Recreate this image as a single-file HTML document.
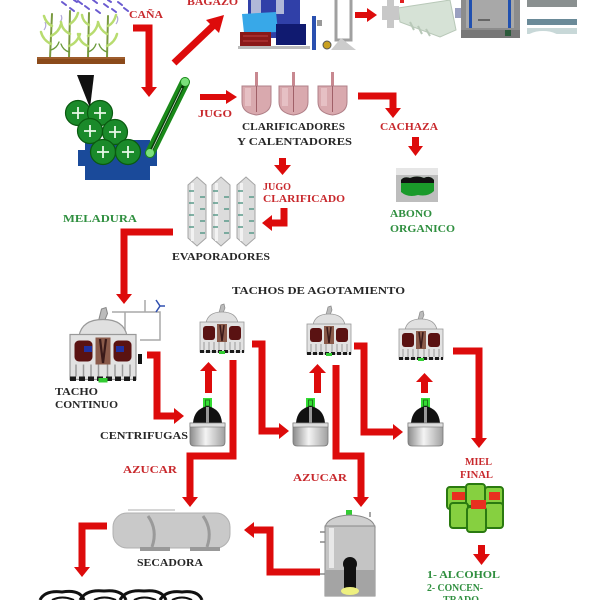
<!DOCTYPE html>
<html><head><meta charset="utf-8"><style>
html,body{margin:0;padding:0;background:#fff;}
svg{display:block;}
text{font-family:"Liberation Serif",serif;font-weight:bold;}
.r{fill:#c8282c;}
.g{fill:#2f8f3f;}
.k{fill:#262626;}
.a{fill:none;stroke:#dd0b0b;stroke-width:7;stroke-linejoin:miter;}
.h{fill:#dd0b0b;}
</style></head><body>
<svg width="600" height="600" viewBox="0 0 600 600" xmlns="http://www.w3.org/2000/svg">
<defs>
 <linearGradient id="cyl" x1="0" x2="1" y1="0" y2="0">
  <stop offset="0" stop-color="#8a8a8a"/><stop offset="0.45" stop-color="#f4f4f4"/><stop offset="1" stop-color="#a0a0a0"/>
 </linearGradient>
 <g id="tacho">
  <path d="M19,10 L21,2 L24,1 L25,5 L23,10 Z" fill="#bbb" stroke="#888" stroke-width="0.7"/>
  <path d="M6,20 Q8,9 22,9 Q36,9 38,20 Z" fill="#e0e0e0" stroke="#999" stroke-width="0.8"/>
  <rect x="0" y="19" width="44" height="30" fill="#e2e2e2" stroke="#999" stroke-width="0.8"/>
  <rect x="3" y="23" width="12" height="14" rx="3" fill="#5a1212"/>
  <rect x="29" y="23" width="12" height="14" rx="3" fill="#5a1212"/>
  <rect x="17" y="21" width="10" height="18" fill="#8a5a4a"/>
  <path d="M20,22 L22,38 L24,22" stroke="#3a1a1a" stroke-width="1.5" fill="none"/>
  <path d="M4,39 V47 M9,39 V47 M14,39 V47 M19,39 V47 M25,39 V47 M30,39 V47 M35,39 V47 M40,39 V47" stroke="#999" stroke-width="1"/>
  <line x1="0" y1="48.5" x2="44" y2="48.5" stroke="#1a1a1a" stroke-width="3" stroke-dasharray="4 2"/>
  <rect x="19" y="48" width="6" height="3" fill="#3c3"/>
 </g>
 <g id="centr">
  <rect x="13" y="0" width="9" height="10" fill="#33dd33"/>
  <rect x="15.5" y="2" width="4" height="6" fill="none" stroke="#1a7a1a" stroke-width="1"/>
  <path d="M3,25 Q4,11 17.5,8 Q31,11 32,25 Z" fill="#111"/>
  <rect x="16" y="9" width="3" height="16" fill="#999"/>
  <path d="M0,25 L35,25 L35,44 Q35,48 31,48 L4,48 Q0,48 0,44 Z" fill="url(#cyl)" stroke="#777" stroke-width="0.8"/>
  <rect x="0" y="25" width="35" height="4" fill="#ddd" stroke="#777" stroke-width="0.6"/>
 </g>
 <g id="evap">
  <path d="M9,0 L18,8 L18,61 L9,69 L0,61 L0,8 Z" fill="#dcdcdc" stroke="#a4a4a4" stroke-width="1"/>
  <rect x="3" y="6" width="3" height="58" fill="#f2f2f2"/>
  <path d="M1,14 H6 M12,20 H17 M1,26 H6 M12,32 H17 M1,38 H6 M12,44 H17 M1,50 H6 M12,56 H17" stroke="#5a9a8a" stroke-width="1.5"/>
 </g>
 <g id="clar">
  <rect x="13" y="-14" width="3" height="14" fill="#c88890"/>
  <path d="M0,0 L29,0 L29,16 Q29,27 14.5,29 Q0,27 0,16 Z" fill="#d9a9ae" stroke="#b08088" stroke-width="1"/>
  <rect x="3" y="2" width="6" height="18" fill="#e6c0c4"/>
  <line x1="14.5" y1="0" x2="14.5" y2="26" stroke="#a06068" stroke-width="1"/>
 </g>
</defs>

<!-- rain -->
<g stroke="#6a5ad0" stroke-width="2" stroke-linecap="round">
 <line x1="62" y1="2" x2="66" y2="5"/><line x1="70" y1="8" x2="74" y2="11"/>
 <line x1="78" y1="1" x2="82" y2="4"/><line x1="85" y1="6" x2="89" y2="9"/>
 <line x1="93" y1="0" x2="97" y2="3"/><line x1="96" y1="10" x2="100" y2="13"/>
 <line x1="104" y1="4" x2="108" y2="7"/><line x1="112" y1="9" x2="116" y2="12"/>
 <line x1="118" y1="2" x2="122" y2="5"/><line x1="124" y1="8" x2="128" y2="11"/>
 <line x1="74" y1="0" x2="77" y2="2"/><line x1="108" y1="0" x2="111" y2="2"/>
</g>
<g stroke="#b0a8d8" stroke-width="1.2" fill="none">
 <path d="M44,30 q3,-4 1,-8"/><path d="M60,22 q3,-3 1,-7"/><path d="M116,24 q3,-4 1,-8"/>
</g>
<!-- cane plants -->
<g fill="none" stroke-linecap="round">
 <path d="M50,58 L52,14 M69,58 L70,11 M88,58 L89,13 M107,58 L108,16" stroke="#7a9a40" stroke-width="2"/>
 <g stroke="#b8dc70" stroke-width="2.5">
  <path d="M51,44 q-8,-4 -10,-12"/><path d="M51,36 q8,-4 10,-12"/><path d="M52,26 q-6,-3 -8,-10"/>
  <path d="M69,46 q8,-3 11,-12"/><path d="M70,34 q-8,-4 -9,-12"/><path d="M70,24 q6,-4 8,-11"/>
  <path d="M88,46 q-8,-3 -10,-12"/><path d="M88,36 q8,-4 10,-13"/><path d="M89,25 q-6,-3 -7,-10"/>
  <path d="M107,46 q8,-4 10,-12"/><path d="M107,34 q-7,-4 -9,-12"/><path d="M108,26 q6,-3 8,-11"/>
 </g>
 <g stroke="#6a9a3a" stroke-width="1.3">
  <path d="M51,50 q6,-2 8,-8"/><path d="M69,52 q-6,-2 -8,-8"/><path d="M88,52 q6,-2 8,-8"/><path d="M107,52 q-6,-2 -8,-8"/>
 </g>
</g>
<rect x="37" y="57" width="88" height="7" fill="#8b4a1a"/>
<line x1="37" y1="58" x2="125" y2="58" stroke="#b07040" stroke-width="1"/>

<!-- funnel -->
<polygon points="77,75 94,75 90,108" fill="#111"/>
<!-- mill base -->
<polygon points="85,140 150,140 150,150 157,150 157,166 150,166 150,180 85,180 85,166 78,166 78,150 85,150" fill="#1a4a9a"/>
<!-- conveyor -->
<line x1="150" y1="153" x2="185" y2="82" stroke="#1a8a1a" stroke-width="10" stroke-linecap="round"/>
<line x1="150" y1="153" x2="185" y2="82" stroke="#0a3a0a" stroke-width="3"/>
<line x1="152" y1="150" x2="182" y2="88" stroke="#c8e8c8" stroke-width="0.8"/>
<circle cx="185" cy="82" r="4" fill="#7be07b"/>
<circle cx="150" cy="153" r="4" fill="#7be07b"/>
<!-- rollers -->
<g fill="#1a8a2a" stroke="#0a5a10" stroke-width="1.2">
 <circle cx="78" cy="113" r="12.5"/><circle cx="100" cy="113" r="12.5"/>
 <circle cx="90" cy="131" r="12.5"/><circle cx="115" cy="132" r="12.5"/>
 <circle cx="103" cy="152" r="12.5"/><circle cx="128" cy="152" r="12.5"/>
</g>
<g stroke="#e8f8e8" stroke-width="1.8">
 <path d="M72,113 h12 M78,107 v12"/><path d="M94,113 h12 M100,107 v12"/>
 <path d="M84,131 h12 M90,125 v12"/><path d="M109,132 h12 M115,126 v12"/>
 <path d="M97,152 h12 M103,146 v12"/><path d="M122,152 h12 M128,146 v12"/>
</g>

<!-- CAÑA arrow -->
<polyline class="a" points="133,28 149,28 149,88"/>
<polygon class="h" points="141,87 157,87 149,97"/>
<!-- BAGAZO arrow -->
<line x1="174" y1="63" x2="215" y2="24" stroke="#dd0b0b" stroke-width="7"/>
<polygon class="h" points="224,15 219,33 206,20"/>

<!-- boiler -->
<rect x="248" y="0" width="52" height="38" fill="#3040a8"/>
<rect x="251" y="0" width="10" height="16" fill="#b0b8d8"/>
<rect x="276" y="0" width="8" height="14" fill="#b0b8d8"/>
<path d="M242,14 L276,12 L278,32 L244,33 Z" fill="#38a8e8"/>
<rect x="276" y="24" width="30" height="21" fill="#101a70"/>
<rect x="240" y="32" width="31" height="14" fill="#8a1818"/>
<path d="M243,36 h25 M243,41 h25" stroke="#c04040" stroke-width="1"/>
<rect x="238" y="46" width="72" height="3" fill="#bbb"/>
<rect x="312" y="16" width="4" height="34" fill="#2a50b0"/>
<rect x="317" y="20" width="5" height="6" fill="#999"/>
<circle cx="327" cy="45" r="4" fill="#c9a020" stroke="#555" stroke-width="1"/>
<path d="M336,0 L336,40 L351,40 L351,0" fill="none" stroke="#a0a0a0" stroke-width="3"/>
<polygon points="331,50 341,38 356,50" fill="#ccc"/>
<!-- small arrow -->
<rect x="355" y="12" width="13" height="6" fill="#dd0b0b"/>
<polygon class="h" points="367,8 377,15 367,22"/>
<!-- turbine -->
<polygon points="398,8 450,0 456,30 440,37 400,22" fill="#d6e2d6" stroke="#b8c8b8" stroke-width="1"/>
<path d="M410,22 l4,8 M418,26 l4,8 M426,29 l4,7" stroke="#b8c8b8" stroke-width="2"/>
<rect x="382" y="6" width="17" height="14" fill="#c8c8c8"/>
<rect x="387" y="0" width="7" height="28" fill="#c8c8c8"/>
<rect x="400" y="0" width="4" height="3" fill="#e02020"/>
<rect x="455" y="8" width="7" height="10" fill="#9aa0c0"/>
<!-- generator -->
<rect x="461" y="0" width="59" height="38" fill="#8c8c8c"/>
<rect x="466" y="0" width="48" height="28" fill="#a8a8a8"/>
<rect x="469" y="0" width="3" height="28" fill="#2050b0"/>
<rect x="508" y="0" width="3" height="28" fill="#2050b0"/>
<rect x="478" y="19" width="12" height="2" fill="#666"/>
<rect x="461" y="30" width="59" height="8" fill="#777"/>
<rect x="505" y="30" width="6" height="6" fill="#2a5a3a"/>
<!-- bars -->
<rect x="527" y="0" width="50" height="7" fill="#8a9090"/>
<rect x="527" y="19" width="50" height="6" fill="#6a8a98"/>
<rect x="527" y="28" width="50" height="6" fill="#c8d8d8"/>
<ellipse cx="543" cy="40" rx="18" ry="9" fill="#fff"/>

<!-- JUGO arrow -->
<rect x="200" y="94" width="27" height="6" fill="#dd0b0b"/>
<polygon class="h" points="226,90 237,97 226,104"/>
<!-- clarifiers -->
<use href="#clar" x="242" y="86"/>
<use href="#clar" x="279" y="86"/>
<use href="#clar" x="318" y="86"/>
<!-- cachaza arrow -->
<polyline class="a" points="358,96 393,96 393,109"/>
<polygon class="h" points="385,108 401,108 393,118"/>
<rect x="412" y="137" width="7" height="10" fill="#dd0b0b"/>
<polygon class="h" points="408,146 423,146 415.5,156"/>
<!-- abono -->
<rect x="396" y="168" width="42" height="34" fill="#bdbdbd"/>
<rect x="396" y="168" width="42" height="7" fill="#e6e6e6"/>
<path d="M401,180 Q404,176 410,178 Q417,175 424,178 Q430,175 434,180 L434,191 Q428,197 418,195 Q408,198 401,192 Z" fill="#1a9a2a"/>
<path d="M401,180 Q404,176 410,178 Q417,175 424,178 Q430,175 434,180 L434,183 L401,183 Z" fill="#111"/>

<!-- down arrow to jugo clarificado -->
<rect x="279" y="158" width="7" height="8" fill="#dd0b0b"/>
<polygon class="h" points="274,165 291,165 282.5,175"/>
<!-- return arrow -->
<polyline class="a" points="284,208 284,223 271,223"/>
<polygon class="h" points="272,215 272,231 262,223"/>
<!-- evaporators -->
<use href="#evap" x="188" y="177"/>
<use href="#evap" x="212" y="177"/>
<use href="#evap" x="237" y="177"/>
<!-- meladura arrow -->
<polyline class="a" points="173,232 124,232 124,294"/>
<polygon class="h" points="116,294 132,294 124,304"/>

<!-- tacho continuo -->
<g fill="none" stroke="#a8a8a8" stroke-width="1.5">
 <path d="M112,312 H160 V340 H140"/><path d="M125,312 V330"/><path d="M145,312 V300"/>
</g>
<path d="M156,300 l4,6 l-4,6 M160,306 h5" stroke="#3050b0" stroke-width="1.5" fill="none"/>
<g transform="translate(70,306) scale(1.5)"><use href="#tacho"/></g>
<rect x="84" y="346" width="8" height="6" fill="#2030a0"/>
<rect x="116" y="346" width="8" height="6" fill="#2030a0"/>
<rect x="138" y="354" width="4" height="10" fill="#111"/>

<!-- tachos -->
<use href="#tacho" x="200" y="303"/>
<use href="#tacho" x="307" y="305"/>
<use href="#tacho" x="399" y="310"/>
<!-- centrifuges -->
<use href="#centr" x="190" y="398"/>
<use href="#centr" x="293" y="398"/>
<use href="#centr" x="408" y="398"/>

<!-- up arrows -->
<rect x="205" y="370" width="7" height="23" fill="#dd0b0b"/>
<polygon class="h" points="200,371 217,371 208.5,362"/>
<rect x="314" y="372" width="7" height="21" fill="#dd0b0b"/>
<polygon class="h" points="309,373 326,373 317.5,364"/>
<rect x="421" y="381" width="7" height="12" fill="#dd0b0b"/>
<polygon class="h" points="416,382 433,382 424.5,373"/>

<!-- connectors -->
<polyline class="a" points="147,355 157,355 157,416 174,416"/>
<polygon class="h" points="174,408 174,424 184,416"/>
<polyline class="a" points="233,360 233,456 190,456 190,497"/>
<polygon class="h" points="182,497 198,497 190,507"/>
<polyline class="a" points="252,344 262,344 262,431 279,431"/>
<polygon class="h" points="279,423 279,439 289,431"/>
<polyline class="a" points="354,346 364,346 364,432 393,432"/>
<polygon class="h" points="393,424 393,440 403,432"/>
<polyline class="a" points="336,365 336,456 361,456 361,497"/>
<polygon class="h" points="353,497 369,497 361,507"/>
<polyline class="a" points="453,351 479,351 479,438"/>
<polygon class="h" points="471,438 487,438 479,448"/>

<!-- barrels -->
<g fill="#86d040" stroke="#2a7a10" stroke-width="2">
 <rect x="447" y="487" width="20" height="22" rx="3"/>
 <rect x="485" y="487" width="18" height="22" rx="3"/>
 <rect x="466" y="484" width="19" height="22" rx="3"/>
 <rect x="450" y="503" width="18" height="25" rx="3"/>
 <rect x="485" y="503" width="18" height="25" rx="3"/>
 <rect x="467" y="507" width="19" height="25" rx="3"/>
</g>
<g fill="#e83020">
 <rect x="452" y="492" width="13" height="8"/><rect x="471" y="500" width="15" height="9"/><rect x="489" y="492" width="11" height="8"/>
</g>
<rect x="478" y="545" width="7" height="10" fill="#dd0b0b"/>
<polygon class="h" points="473,554 490,554 481.5,565"/>

<!-- silo -->
<rect x="346" y="510" width="6" height="9" fill="#33cc33"/>
<path d="M325,527 Q328,516 350,515 Q372,516 375,527 Z" fill="#cfcfcf" stroke="#888" stroke-width="1"/>
<rect x="325" y="526" width="50" height="70" fill="#c4c4c4" stroke="#888" stroke-width="1"/>
<rect x="329" y="528" width="5" height="40" fill="#e8e8e8"/>
<rect x="325" y="570" width="50" height="26" fill="#a4a4a4"/>
<path d="M320,532 h5 M320,542 h5 M320,574 h5 M370,512 v5" stroke="#888" stroke-width="1.5"/>
<circle cx="350" cy="564" r="7" fill="#111"/>
<rect x="344" y="564" width="12" height="24" fill="#111"/>
<ellipse cx="350" cy="591" rx="9" ry="4" fill="#eef080"/>
<!-- silo to secadora -->
<polyline class="a" points="320,572 270,572 270,530 254,530"/>
<polygon class="h" points="254,522 254,538 244,530"/>

<!-- secadora -->
<line x1="128" y1="510" x2="175" y2="510" stroke="#c8c8c8" stroke-width="1.5"/>
<rect x="113" y="513" width="117" height="35" rx="14" fill="#c9c9c9" stroke="#b0b0b0" stroke-width="1"/>
<path d="M148,516 Q158,530 152,547" stroke="#9a9a9a" stroke-width="3" fill="none"/>
<path d="M203,516 Q213,530 207,547" stroke="#9a9a9a" stroke-width="3" fill="none"/>
<rect x="140" y="547" width="30" height="4" fill="#999"/>
<rect x="190" y="547" width="30" height="4" fill="#999"/>
<!-- secadora to bags -->
<polyline class="a" points="107,526 82,526 82,567"/>
<polygon class="h" points="74,567 90,567 82,577"/>
<!-- bags -->
<g fill="none" stroke="#111" stroke-width="3">
 <path d="M40,600 Q45,590 62,592 Q80,589 84,600"/>
 <path d="M80,600 Q86,589 104,591 Q122,589 126,600"/>
 <path d="M120,600 Q126,589 144,591 Q162,589 166,600"/>
 <path d="M160,600 Q166,590 182,592 Q198,590 202,600"/>
 <path d="M52,600 q10,-5 22,0 M94,600 q10,-5 22,0 M134,600 q10,-5 22,0 M172,600 q10,-5 20,0" stroke-width="2"/>
</g>

<!-- labels -->
<text class="r" x="129" y="18" font-size="10" textLength="34" lengthAdjust="spacingAndGlyphs">CAÑA</text>
<text class="r" x="187" y="5" font-size="10" textLength="51" lengthAdjust="spacingAndGlyphs">BAGAZO</text>
<text class="r" x="198" y="117" font-size="10" textLength="34" lengthAdjust="spacingAndGlyphs">JUGO</text>
<text class="k" x="242" y="130" font-size="10.5" textLength="103" lengthAdjust="spacingAndGlyphs">CLARIFICADORES</text>
<text class="k" x="237" y="145" font-size="11" textLength="115" lengthAdjust="spacingAndGlyphs">Y CALENTADORES</text>
<text class="r" x="380" y="130" font-size="10" textLength="58" lengthAdjust="spacingAndGlyphs">CACHAZA</text>
<text class="r" x="263" y="190" font-size="10" textLength="28" lengthAdjust="spacingAndGlyphs">JUGO</text>
<text class="r" x="263" y="202" font-size="10" textLength="82" lengthAdjust="spacingAndGlyphs">CLARIFICADO</text>
<text class="g" x="390" y="217" font-size="10" textLength="42" lengthAdjust="spacingAndGlyphs">ABONO</text>
<text class="g" x="390" y="232" font-size="10" textLength="65" lengthAdjust="spacingAndGlyphs">ORGANICO</text>
<text class="g" x="63" y="222" font-size="10" textLength="74" lengthAdjust="spacingAndGlyphs">MELADURA</text>
<text class="k" x="172" y="260" font-size="10.5" textLength="98" lengthAdjust="spacingAndGlyphs">EVAPORADORES</text>
<text class="k" x="232" y="294" font-size="10.5" textLength="173" lengthAdjust="spacingAndGlyphs">TACHOS DE AGOTAMIENTO</text>
<text class="k" x="55" y="395" font-size="10" textLength="43" lengthAdjust="spacingAndGlyphs">TACHO</text>
<text class="k" x="55" y="408" font-size="10" textLength="63" lengthAdjust="spacingAndGlyphs">CONTINUO</text>
<text class="k" x="100" y="439" font-size="10.5" textLength="88" lengthAdjust="spacingAndGlyphs">CENTRIFUGAS</text>
<text class="r" x="123" y="473" font-size="10" textLength="54" lengthAdjust="spacingAndGlyphs">AZUCAR</text>
<text class="r" x="293" y="481" font-size="10" textLength="54" lengthAdjust="spacingAndGlyphs">AZUCAR</text>
<text class="r" x="465" y="465" font-size="10" textLength="27" lengthAdjust="spacingAndGlyphs">MIEL</text>
<text class="r" x="460" y="478" font-size="10" textLength="33" lengthAdjust="spacingAndGlyphs">FINAL</text>
<text class="k" x="137" y="566" font-size="10" textLength="66" lengthAdjust="spacingAndGlyphs">SECADORA</text>
<text class="g" x="427" y="578" font-size="10" textLength="73" lengthAdjust="spacingAndGlyphs">1- ALCOHOL</text>
<text class="g" x="427" y="591" font-size="10" textLength="56" lengthAdjust="spacingAndGlyphs">2- CONCEN-</text>
<text class="g" x="443" y="603" font-size="10" textLength="36" lengthAdjust="spacingAndGlyphs">TRADO</text>
</svg>
</body></html>
